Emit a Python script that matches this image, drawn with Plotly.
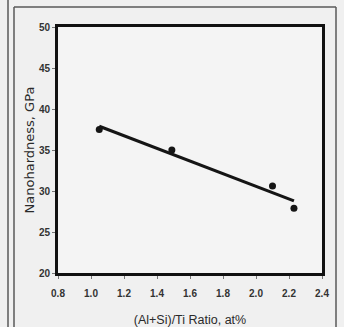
import numpy as np
import plotly.graph_objects as go

# Measured nanohardness vs. (Al+Si)/Ti ratio
ratio = [1.05, 1.49, 2.10, 2.23]
hardness = [37.5, 35.0, 30.6, 27.9]

x_ticks = [0.8, 1.0, 1.2, 1.4, 1.6, 1.8, 2.0, 2.2, 2.4]
y_ticks = [20, 25, 30, 35, 40, 45, 50]

W, H = 344, 327
L, R, T, B = 58, 22, 27, 54

# Least-squares linear trend through the measurements
slope, intercept = np.polyfit(ratio, hardness, 1)
fit_x = np.array([min(ratio), max(ratio)])
fit_y = slope * fit_x + intercept

fig = go.Figure()
fig.add_trace(go.Scatter(
    x=fit_x, y=fit_y, mode="lines",
    line=dict(color="#151515", width=3),
    hoverinfo="skip", showlegend=False,
))
fig.add_trace(go.Scatter(
    x=ratio, y=hardness, mode="markers",
    marker=dict(color="#151515", size=7, symbol="circle"),
    showlegend=False,
))


def px_x(p):
    return (p - L) / (W - L - R)


def px_y(p):
    return 1 - (p - T) / (H - T - B)


# panel border lines around the figure
border = "#5a5a5a"
shapes = [
    dict(type="line", xref="paper", yref="paper",
         x0=px_x(8), x1=px_x(8), y0=px_y(0), y1=px_y(H), line=dict(color=border, width=1.5)),
    dict(type="line", xref="paper", yref="paper",
         x0=px_x(14), x1=px_x(14), y0=px_y(7), y1=px_y(H), line=dict(color=border, width=1.5)),
    dict(type="line", xref="paper", yref="paper",
         x0=px_x(14), x1=px_x(336), y0=px_y(7), y1=px_y(7), line=dict(color=border, width=1.5)),
    dict(type="line", xref="paper", yref="paper",
         x0=px_x(336), x1=px_x(336), y0=px_y(7), y1=px_y(H), line=dict(color=border, width=1.5)),
]

tick_font = dict(family="Liberation Sans Narrow, Liberation Sans, Arial", size=10,
                 color="#333333", weight="bold")

fig.update_layout(
    width=W, height=H,
    margin=dict(l=L, r=R, t=T, b=B),
    paper_bgcolor="#f0f0f0",
    plot_bgcolor="#f4f4f4",
    shapes=shapes,
    xaxis=dict(
        range=[0.8, 2.4], tickvals=x_ticks, tickformat=".1f",
        showgrid=False, zeroline=False, automargin=False,
        showline=True, linecolor="#111111", linewidth=3, mirror=True,
        ticks="outside", ticklen=3, tickcolor="#777777", tickwidth=1,
        ticklabelstandoff=6,
        tickfont=tick_font,
        title=dict(text="(Al+Si)/Ti Ratio, at%", standoff=18,
                   font=dict(family="Liberation Sans, Arial", size=12.5, color="#2a2a2a")),
    ),
    yaxis=dict(
        range=[20, 50], tickvals=y_ticks,
        showgrid=False, zeroline=False, automargin=False,
        showline=True, linecolor="#111111", linewidth=3, mirror=True,
        ticks="outside", ticklen=3, tickcolor="#777777", tickwidth=1,
        tickfont=tick_font,
        title=dict(text="Nanohardness, GPa", standoff=2,
                   font=dict(family="DejaVu Sans, Verdana", size=13, color="#2a2a2a")),
    ),
)

fig.write_html("out.html")
